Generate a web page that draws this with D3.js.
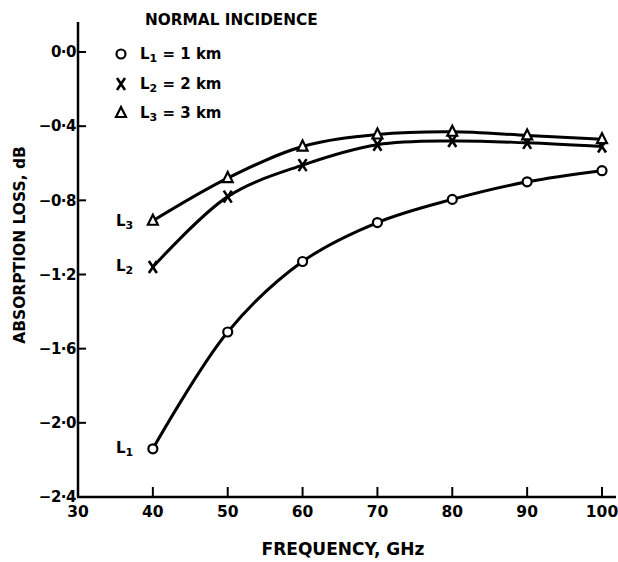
<!DOCTYPE html>
<html><head><meta charset="utf-8">
<script src="https://cdn.jsdelivr.net/npm/d3@7"></script>
<style>html,body{margin:0;padding:0;background:#fff}svg{display:block}text{font-family:"DejaVu Sans",sans-serif;font-weight:bold;fill:#000}</style>
</head><body>
<script>
const frequencies = [40, 50, 60, 70, 80, 90, 100];
const lossL1 = [-2.14, -1.51, -1.13, -0.92, -0.795, -0.70, -0.64];
const lossL2 = [-1.16, -0.78, -0.61, -0.50, -0.48, -0.49, -0.51];
const lossL3 = [-0.91, -0.68, -0.51, -0.445, -0.43, -0.45, -0.47];
const xTicks = [30, 40, 50, 60, 70, 80, 90, 100];
const yTicks = [0, -0.4, -0.8, -1.2, -1.6, -2.0, -2.4];
const yTickLabels = ["0·0", "−0·4", "−0·8", "−1·2", "−1·6", "−2·0", "−2·4"];
const legendLabels = ["L1 = 1 km", "L2 = 2 km", "L3 = 3 km"];

const W = 618, H = 562;
const svg = d3.select("body").append("svg").attr("width", W).attr("height", H);
const x = d3.scaleLinear().domain([30, 100]).range([78, 602]);
const y = d3.scaleLinear().domain([0, -2.4]).range([52, 497]);

// axes
const g = svg.append("g");
g.append("line").attr("x1", x(30)).attr("x2", x(30)).attr("y1", 22).attr("y2", y(-2.4)).attr("stroke", "#000").attr("stroke-width", 2.5);
g.append("line").attr("x1", x(30) - 1).attr("x2", 616).attr("y1", y(-2.4)).attr("y2", y(-2.4)).attr("stroke", "#000").attr("stroke-width", 2.5);

yTicks.forEach((v, i) => {
  g.append("line").attr("x1", x(30)).attr("x2", x(30) + 8).attr("y1", y(v)).attr("y2", y(v)).attr("stroke", "#000").attr("stroke-width", 2);
  g.append("text").attr("x", x(30) - 2).attr("y", y(v)).attr("dy", "0.35em").attr("text-anchor", "end").attr("font-size", 15).attr("letter-spacing", -0.5).text(yTickLabels[i]);
});
xTicks.forEach(v => {
  if (v > 30) g.append("line").attr("x1", x(v)).attr("x2", x(v)).attr("y1", y(-2.4)).attr("y2", y(-2.4) - 10).attr("stroke", "#000").attr("stroke-width", 2);
  g.append("text").attr("x", x(v)).attr("y", y(-2.4) + 20).attr("text-anchor", "middle").attr("font-size", 15.5).text(v);
});

svg.append("text").attr("x", 343).attr("y", 555).attr("text-anchor", "middle").attr("font-size", 17).text("FREQUENCY, GHz");
svg.append("text").attr("transform", "translate(25,245) rotate(-90)").attr("text-anchor", "middle").attr("font-size", 15.5).text("ABSORPTION LOSS, dB");
svg.append("text").attr("x", 145).attr("y", 25).attr("font-size", 15.3).text("NORMAL INCIDENCE");

// curves
const line = d3.line().x((d, i) => x(frequencies[i])).y(d => y(d)).curve(d3.curveCatmullRom.alpha(0.5));
[lossL1, lossL2, lossL3].forEach(s => {
  svg.append("path").attr("d", line(s)).attr("fill", "none").attr("stroke", "#000").attr("stroke-width", 3);
});

function circleMark(sel, cx, cy) {
  sel.append("circle").attr("cx", cx).attr("cy", cy).attr("r", 4.5).attr("fill", "#fff").attr("stroke", "#000").attr("stroke-width", 2.2);
}
function xMark(sel, cx, cy) {
  sel.append("path").attr("d", `M${cx-4},${cy-6}L${cx+4},${cy+6}M${cx+4},${cy-6}L${cx-4},${cy+6}`).attr("stroke", "#000").attr("stroke-width", 2.6).attr("fill", "none");
}
function triMark(sel, cx, cy) {
  sel.append("path").attr("d", `M${cx},${cy-6}L${cx+5},${cy+4}L${cx-5},${cy+4}Z`).attr("stroke", "#000").attr("stroke-width", 2.2).attr("fill", "#fff");
}
lossL1.forEach((v, i) => circleMark(svg, x(frequencies[i]), y(v)));
lossL2.forEach((v, i) => xMark(svg, x(frequencies[i]), y(v)));
lossL3.forEach((v, i) => triMark(svg, x(frequencies[i]), y(v)));

// legend
const marks = [circleMark, xMark, triMark];
const legY = [54, 84, 113];
legendLabels.forEach((lab, i) => {
  marks[i](svg, 121, legY[i]);
  const t = svg.append("text").attr("x", 140).attr("y", legY[i]).attr("dy", "0.35em").attr("font-size", 15);
  t.append("tspan").text("L");
  t.append("tspan").attr("font-size", 11).attr("dy", 3).text(lab.substring(1, 2));
  t.append("tspan").attr("dy", -3).text(lab.substring(2));
});

// curve end labels
const curveLabels = [["L", "3", y(lossL3[0]) + 5], ["L", "2", y(lossL2[0]) + 4], ["L", "1", y(lossL1[0]) + 4]];
curveLabels.forEach(([a, b, yy]) => {
  const t = svg.append("text").attr("x", 116).attr("y", yy).attr("font-size", 15);
  t.append("tspan").text(a);
  t.append("tspan").attr("font-size", 11).attr("dy", 3).text(b);
});
</script>
</body></html>
